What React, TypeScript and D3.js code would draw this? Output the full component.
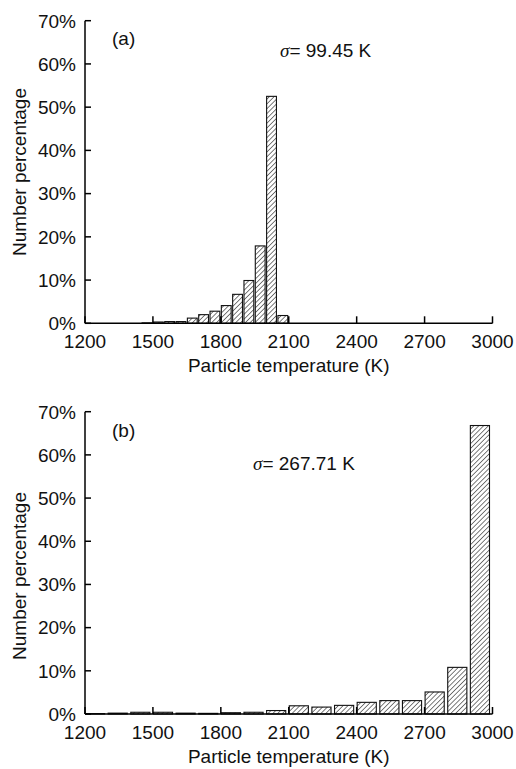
import React from "react";
import * as d3 from "d3";

// Panel (a): bins of 50 K
const binStartsA = [1450, 1500, 1550, 1600, 1650, 1700, 1750, 1800, 1850, 1900, 1950, 2000, 2050];
const valuesA = [0.1, 0.3, 0.4, 0.4, 1.2, 2.0, 2.8, 4.1, 6.7, 9.9, 17.9, 52.5, 1.8];
const binWidthA = 50;

// Panel (b): bins of 100 K
const binStartsB = [1200, 1300, 1400, 1500, 1600, 1700, 1800, 1900, 2000, 2100, 2200, 2300, 2400, 2500, 2600, 2700, 2800, 2900];
const valuesB = [0.1, 0.2, 0.4, 0.4, 0.2, 0.15, 0.3, 0.4, 0.8, 1.9, 1.6, 2.0, 2.7, 3.1, 3.1, 5.1, 10.8, 66.8];
const binWidthB = 100;

const xTicks = [1200, 1500, 1800, 2100, 2400, 2700, 3000];
const yTicks = [0, 10, 20, 30, 40, 50, 60, 70];
const FONT = "'Liberation Sans', Arial, sans-serif";

type PanelProps = {
  id: string;
  top: number;
  bottom: number;
  starts: number[];
  values: number[];
  binW: number;
  gap: number;
  label: string;
  labelY: number;
  sigma: string;
  sigmaX: number;
  sigmaY: number;
  ylabelCenter: number;
};

function Panel(p: PanelProps) {
  const left = 85;
  const right = 492.5;
  const x = d3.scaleLinear().domain([1200, 3000]).range([left, right]);
  const y = d3.scaleLinear().domain([0, 70]).range([p.bottom, p.top]);
  const tickLen = 6;
  return (
    <g>
      {p.starts.map((s, i) => {
        const x0 = x(s) + 0.5;
        const w = x(s + p.binW) - x(s) - p.gap;
        const y0 = y(p.values[i]);
        return (
          <rect
            key={i}
            x={x0}
            y={y0}
            width={w}
            height={p.bottom - y0}
            fill={`url(#hatch)`}
            stroke="#111"
            strokeWidth={1.1}
          />
        );
      })}
      <line x1={left} x2={left} y1={p.top} y2={p.bottom} stroke="#000" strokeWidth={1.5} />
      <line x1={left} x2={right} y1={p.bottom} y2={p.bottom} stroke="#000" strokeWidth={1.5} />
      {yTicks.map((t) => (
        <g key={"y" + t}>
          <line x1={left} x2={left + tickLen} y1={y(t)} y2={y(t)} stroke="#000" strokeWidth={1.5} />
          <text x={left - 9} y={y(t) + 6.8} textAnchor="end" fontSize={19} fontFamily={FONT} fill="#111">
            {t + "%"}
          </text>
        </g>
      ))}
      {xTicks.map((t) => (
        <g key={"x" + t}>
          <line x1={x(t)} x2={x(t)} y1={p.bottom} y2={p.bottom - tickLen - 1} stroke="#000" strokeWidth={1.5} />
          <text x={x(t)} y={p.bottom + 24.5} textAnchor="middle" fontSize={19} fontFamily={FONT} fill="#111">
            {t}
          </text>
        </g>
      ))}
      <text x={(left + right) / 2} y={p.bottom + 48.5} textAnchor="middle" fontSize={19} fontFamily={FONT} fill="#111">
        Particle temperature (K)
      </text>
      <text
        transform={`translate(26,${p.ylabelCenter}) rotate(-90)`}
        textAnchor="middle"
        fontSize={19}
        fontFamily={FONT}
        fill="#111"
      >
        Number percentage
      </text>
      <text x={112} y={p.labelY} fontSize={19} fontFamily={FONT} fill="#111">
        {p.label}
      </text>
      <text x={p.sigmaX} y={p.sigmaY} fontSize={19} fontFamily={FONT} fill="#111">
        <tspan fontStyle="italic" fontFamily="'Liberation Serif', 'Times New Roman', serif">σ</tspan>
        <tspan>{"= " + p.sigma}</tspan>
      </text>
    </g>
  );
}

export default function App() {
  return (
    <svg
      width={516}
      height={769}
      style={{ position: "absolute", left: 0, top: 0, background: "#fff" }}
    >
      <defs>
        <pattern id="hatch" patternUnits="userSpaceOnUse" width={3.4} height={3.4} patternTransform="rotate(45)">
          <rect width={3.4} height={3.4} fill="#fff" />
          <line x1={0} y1={0} x2={0} y2={3.4} stroke="#111" strokeWidth={1.1} />
        </pattern>
      </defs>
      <Panel
        id="a"
        top={20.7}
        bottom={323.3}
        starts={binStartsA}
        values={valuesA}
        binW={binWidthA}
        gap={1.5}
        label="(a)"
        labelY={45}
        sigma="99.45 K"
        sigmaX={280}
        sigmaY={57}
        ylabelCenter={172}
      />
      <Panel
        id="b"
        top={411.7}
        bottom={714}
        starts={binStartsB}
        values={valuesB}
        binW={binWidthB}
        gap={3.5}
        label="(b)"
        labelY={437}
        sigma="267.71 K"
        sigmaX={253}
        sigmaY={470}
        ylabelCenter={576}
      />
    </svg>
  );
}
